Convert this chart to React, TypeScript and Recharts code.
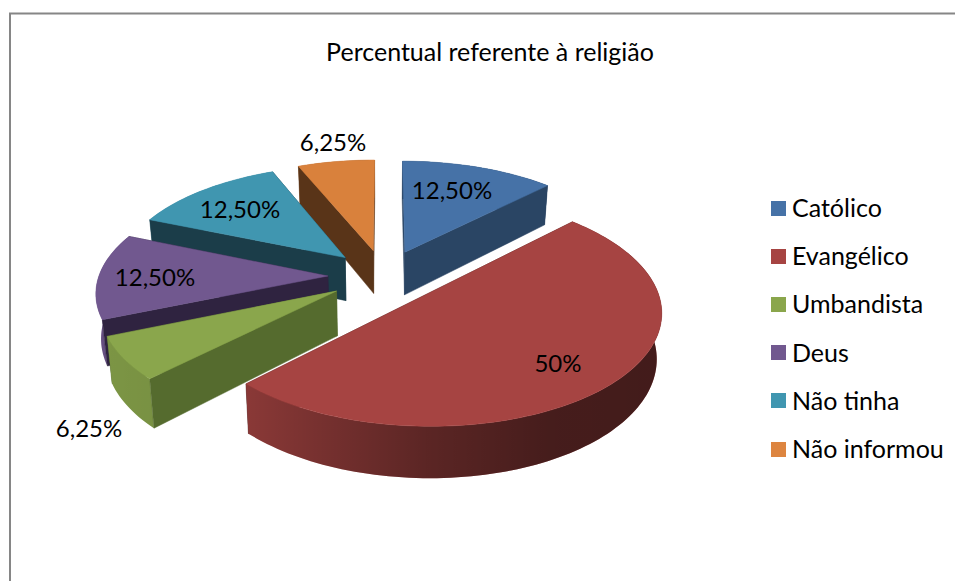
import React from "react";
import { PieChart, Pie, Legend } from "recharts";

const categories = ["Católico", "Evangélico", "Umbandista", "Deus", "Não tinha", "Não informou"];
const percentValues = [12.5, 50, 6.25, 12.5, 12.5, 6.25];
const percentLabels = ["12,50%", "50%", "6,25%", "12,50%", "12,50%", "6,25%"];
const topColors = ["#4672A7", "#A64442", "#8AA64C", "#71588F", "#4096B0", "#D9813C"];
const sideColors = ["#2A4564", "#461C1A", "#556B2E", "#2F2340", "#1B3D49", "#593418"];
const legendColors = ["#4672A7", "#A64442", "#8AA64C", "#71588F", "#4096B0", "#DD8540"];
// back-to-front paint order of the slices
const paintOrder = [5, 0, 4, 3, 2, 1];
const labelCenters = [[452, 189], [558, 362], [89, 427], [155, 276], [240, 208], [333, 141]];

const FONT = "Lato, 'Noto Sans', sans-serif";
const TILT = 110 / 232;
const PERSPECTIVE = 0.13;
const EXPLODE = 0.245;
const DEPTH = 44;
const TAPER = 0.018;
const RAD = Math.PI / 180;

const data = categories.map((name, i) => ({ name, value: percentValues[i], fill: topColors[i] }));

function SliceShape(props: any) {
  const { cx, cy, outerRadius: R, startAngle, endAngle, name } = props;
  const idx = categories.indexOf(name ?? props.payload?.name);
  const mid = ((startAngle + endAngle) / 2) * RAD;
  const ou = EXPLODE * Math.cos(mid);
  const ov = EXPLODE * Math.sin(mid);
  const project = (r: number, deg: number, z: number) => {
    const u = ou + r * Math.cos(deg * RAD);
    const v = ov + r * Math.sin(deg * RAD);
    const s = 1 / (1 + PERSPECTIVE * v);
    return [cx + R * u * s * (1 - TAPER * z), cy - R * TILT * v * s + DEPTH * z * s];
  };
  const n = Math.max(2, Math.ceil(Math.abs(startAngle - endAngle) / 1.5));
  const degs = Array.from({ length: n + 1 }, (_, k) => startAngle + ((endAngle - startAngle) * k) / n);
  const path = (pts: number[][]) => "M" + pts.map((p) => `${p[0].toFixed(2)},${p[1].toFixed(2)}`).join("L") + "Z";
  const topPts = [project(0, 0, 0), ...degs.map((d) => project(1, d, 0))];
  const arcWall = [...degs.map((d) => project(1, d, 0)), ...[...degs].reverse().map((d) => project(1, d, 1))];
  const side = (d: number) => [project(0, 0, 0), project(1, d, 0), project(1, d, 1), project(0, 0, 1)];
  // outward normal of each flat side: a negative depth component means it faces the viewer
  const sides = [
    { d: startAngle, front: Math.cos(startAngle * RAD) < 0 },
    { d: endAngle, front: -Math.cos(endAngle * RAD) < 0 },
  ];
  const gid = `wall-shade-${idx}`;
  const sideEl = (s: { d: number }, i: number) => (
    <path key={i} d={path(side(s.d))} fill={sideColors[idx]} stroke={sideColors[idx]} strokeWidth={0.5} />
  );
  const [lx, ly] = labelCenters[idx];
  return (
    <g>
      <defs>
        <linearGradient id={gid} gradientUnits="userSpaceOnUse" x1={100} x2={663} y1={0} y2={0}>
          <stop offset="0" stopColor="#000" stopOpacity={0.1} />
          <stop offset="0.26" stopColor="#000" stopOpacity={0.17} />
          <stop offset="0.58" stopColor="#000" stopOpacity={0.45} />
          <stop offset="0.8" stopColor="#000" stopOpacity={0.58} />
          <stop offset="1" stopColor="#000" stopOpacity={0.6} />
        </linearGradient>
      </defs>
      {sides.filter((s) => !s.front).map(sideEl)}
      <path d={path(arcWall)} fill={topColors[idx]} />
      <path d={path(arcWall)} fill={`url(#${gid})`} />
      {sides.filter((s) => s.front).map(sideEl)}
      <path d={path(topPts)} fill={topColors[idx]} stroke={topColors[idx]} strokeWidth={0.5} />
      <text x={lx} y={ly} textAnchor="middle" dominantBaseline="central" fontFamily={FONT} fontSize={24} fill="#000">
        {percentLabels[idx]}
      </text>
    </g>
  );
}

function LegendBox() {
  return (
    <div style={{ fontFamily: FONT }}>
      {categories.map((name, i) => (
        <div key={name} style={{ position: "absolute", left: 0, top: i * 48.2, height: 30, display: "flex", alignItems: "center" }}>
          <span style={{ width: 15, height: 15, background: legendColors[i], marginRight: 6, display: "inline-block" }} />
          <span style={{ fontSize: 25, color: "#000", whiteSpace: "nowrap", position: "relative", top: -1 }}>{name}</span>
        </div>
      ))}
    </div>
  );
}

export default function App() {
  return (
    <div style={{ position: "absolute", left: 0, top: 0, width: 955, height: 581, overflow: "hidden", background: "#fff" }}>
      <PieChart width={955} height={581} margin={{ top: 0, right: 0, bottom: 0, left: 0 }}>
        <rect x={10} y={13.5} width={1000} height={700} fill="#fff" stroke="#868686" strokeWidth={2} />
        <text x={490} y={51} textAnchor="middle" dominantBaseline="central" fontFamily={FONT} fontSize={25} fill="#000">
          Percentual referente à religião
        </text>
        {paintOrder.map((slice) => (
          <Pie
            key={slice}
            data={data}
            dataKey="value"
            nameKey="name"
            cx={384}
            cy={276}
            outerRadius={229}
            startAngle={90}
            endAngle={-270}
            stroke="none"
            isAnimationActive={false}
            legendType={slice === 0 ? "square" : "none"}
            shape={(p: any) => (p.name === categories[slice] ? <SliceShape {...p} /> : <g />)}
          />
        ))}
        <Legend
          layout="vertical"
          content={() => <LegendBox />}
          wrapperStyle={{ position: "absolute", left: 771, top: 193, width: 180, height: 290 }}
        />
      </PieChart>
    </div>
  );
}
